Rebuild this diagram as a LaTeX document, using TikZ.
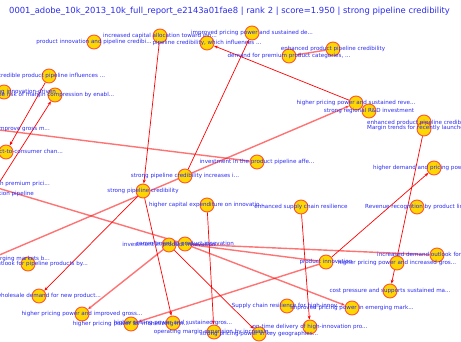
\documentclass[tikz,border=0pt]{standalone}
\usepackage{fontspec}
\setmainfont{DejaVu Sans}
\usetikzlibrary{arrows.meta}
\pgfdeclarelayer{bg}
\pgfsetlayers{bg,main}
\definecolor{nodefill}{HTML}{FFD700}
\definecolor{nodeedge}{HTML}{FF5533}
\definecolor{lbl}{HTML}{2B2BF0}
\definecolor{ttl}{HTML}{2B2BF0}
\definecolor{edgered}{HTML}{FF0000}
\begin{document}
\begin{tikzpicture}[x=1pt,y=-1pt,
  dot/.style={circle,fill=nodefill,draw=nodeedge,line width=0.9pt,minimum size=14pt,inner sep=0pt},
  lab/.style={text=lbl,font=\fontsize{5.6}{6.5}\selectfont,inner sep=0pt},
  rl/.style={draw=edgered,line width=0.7pt},
  pl/.style={draw=edgered,line width=1.4pt,opacity=0.55},
  arr/.style={-{Stealth[length=4pt,width=3pt]}}]
\useasboundingbox (0,0) rectangle (461,342);
\clip (0,0) rectangle (461,342);

% circles
\node[dot] (n1) at (94,42) {};
\node[dot] (n2) at (160,36) {};
\node[dot] (n3) at (207,43) {};
\node[dot] (n4) at (252,33) {};
\node[dot] (n5) at (289,56) {};
\node[dot] (n6) at (333,49) {};
\node[dot] (n7) at (49,76) {};
\node[dot] (n8) at (4,92) {};
\node[dot] (n9) at (55,95) {};
\node[dot] (n10) at (356,103) {};
\node[dot] (n11) at (369,111) {};
\node[dot] (n12a) at (424,122) {};
\node[dot] (n12) at (424,129) {};
\node[dot] (n13) at (6,152) {};
\node[dot] (nL1) at (-9,129) {};
\node[dot] (n14) at (143,191) {};
\node[dot] (n15) at (185,176) {};
\node[dot] (n16) at (257,162) {};
\node[dot] (n17) at (434,168) {};
\node[dot] (nL2) at (-9,186) {};
\node[dot] (nL3) at (-8,194) {};
\node[dot] (n18) at (301,207) {};
\node[dot] (n19) at (417,207) {};
\node[dot] (n20) at (207,205) {};
\node[dot] (n22) at (169,245) {};
\node[dot] (n23) at (185,244) {};
\node[dot] (nL4) at (-10,259) {};
\node[dot] (n21) at (28,264) {};
\node[dot] (n24) at (326,262) {};
\node[dot] (n25) at (397,263) {};
\node[dot] (n26) at (437,255) {};
\node[dot] (n27) at (39,296) {};
\node[dot] (n28) at (82,314) {};
\node[dot] (n29) at (131,324) {};
\node[dot] (n30) at (173,323) {};
\node[dot] (n31) at (214,332) {};
\node[dot] (n32) at (259,334) {};
\node[dot] (n33) at (310,327) {};
\node[dot] (n34) at (287,306) {};
\node[dot] (n35) at (352,308) {};
\node[dot] (n36) at (390,291) {};

% edges
\begin{pgfonlayer}{bg}
\draw[rl,arr] (n2) -- (n14);
\draw[rl,arr] (n15) -- (n4);
\draw[rl,arr] (n10) -- (n3);
\draw[pl,arr] (n6) -- (n5);
\draw[rl,arr] (n7) -- (n13);
\draw[rl,arr] (nL3) -- (n9);
\draw[pl] (nL1) -- (n16);
\draw[pl,arr] (nL4) -- (n10);
\draw[pl] (nL2) -- (n23);
\draw[rl,arr] (n14) -- (n27);
\draw[rl,arr] (n14) -- (n30);
\draw[pl,arr] (n22) -- (n28);
\draw[rl,arr] (n22) -- (n32);
\draw[pl,arr] (n23) -- (n35);
\draw[pl] (n23) -- (n24);
\draw[pl] (n23) -- (n26);
\draw[rl,arr] (n20) -- (n31);
\draw[rl,arr] (n18) -- (n33);
\draw[pl,arr] (n24) -- (n29);
\draw[rl,arr] (n24) -- (n17);
\draw[rl,arr] (n12) -- (n36);
\end{pgfonlayer}

% labels
\node[lab] (l1) at (n1) {product innovation and pipeline credibi...};
\node[lab] (l2) at (n2) {increased capital allocation toward inn...};
\node[lab] (l3) at (n3) {pipeline credibility, which influences ...};
\node[lab] (l4) at (n4) {improved pricing power and sustained de...};
\node[lab] (l5) at (n5) {demand for premium product categories, ...};
\node[lab] (l6) at (n6) {enhanced product pipeline credibility};
\node[lab] (l7) at (n7) {a credible product pipeline influences ...};
\node[lab,anchor=east] (l8) at (56,92) {sustaining strong innovation-driven};
\node[lab] (l9) at (n9) {the risk of margin compression by enabl...};
\node[lab] (l10) at (n10) {higher pricing power and sustained reve...};
\node[lab] (l11) at (n11) {strong regional R\&D investment};
\node[lab,anchor=west] (l12a) at (367,123) {enhanced product pipeline credibility};
\node[lab,anchor=west] (l12) at (367,128) {Margin trends for recently launched prod...};
\node[lab,anchor=east] (l13) at (63,152) {growth in the direct-to-consumer chan...};
\node[lab,anchor=east] (lL1) at (50,129) {pricing power to improve gross m...};
\node[lab] (l14) at (n14) {strong pipeline credibility};
\node[lab] (l15) at (n15) {strong pipeline credibility increases i...};
\node[lab] (l16) at (n16) {investment in the product pipeline affe...};
\node[lab,anchor=west] (l17) at (373,168) {higher demand and pricing power for new...};
\node[lab,anchor=east] (lL2) at (50,184) {demand with premium prici...};
\node[lab,anchor=east] (lL3) at (34,194) {robust innovation pipeline};
\node[lab] (l18) at (n18) {enhanced supply chain resilience};
\node[lab,anchor=west] (l19) at (365,207) {Revenue recognition by product line...};
\node[lab] (l20) at (n20) {higher capital expenditure on innovatio...};
\node[lab] (l22) at (n22) {investment in product innovation};
\node[lab] (l23) at (n23) {commitment to product innovation};
\node[lab,anchor=east] (lL4) at (50,259) {growth in emerging markets b...};
\node[lab,anchor=east] (l21) at (88,264) {demand outlook for pipeline products by...};
\node[lab] (l24) at (n24) {product innovation};
\node[lab] (l25) at (n25) {higher pricing power and increased gros...};
\node[lab,anchor=west] (l26) at (377,255) {increased demand outlook for new prod...};
\node[lab,anchor=east] (l27) at (101,296) {higher wholesale demand for new product...};
\node[lab] (l28) at (n28) {higher pricing power and improved gross...};
\node[lab] (l29) at (n29) {higher pricing power for monetizing inn...};
\node[lab] (l30) at (n30) {higher pricing power and sustained gros...};
\node[lab] (l31) at (n31) {operating margin expansion by increasin...};
\node[lab] (l32) at (n32) {strong pricing power in key geographies...};
\node[lab] (l33) at (n33) {on-time delivery of high-innovation pro...};
\node[lab] (l34) at (n34) {Supply chain resilience for high-innov...};
\node[lab] (l35) at (n35) {improved pricing power in emerging mark...};
\node[lab] (l36) at (n36) {cost pressure and supports sustained ma...};

\node[text=ttl,font=\fontsize{8.4}{9.5}\selectfont,anchor=west,inner sep=0pt] (title) at (9,11) {0001\_adobe\_10k\_2013\_10k\_full\_report\_e2143a01fae8 | rank 2 | score=1.950 | strong pipeline credibility};
\end{tikzpicture}
\end{document}
